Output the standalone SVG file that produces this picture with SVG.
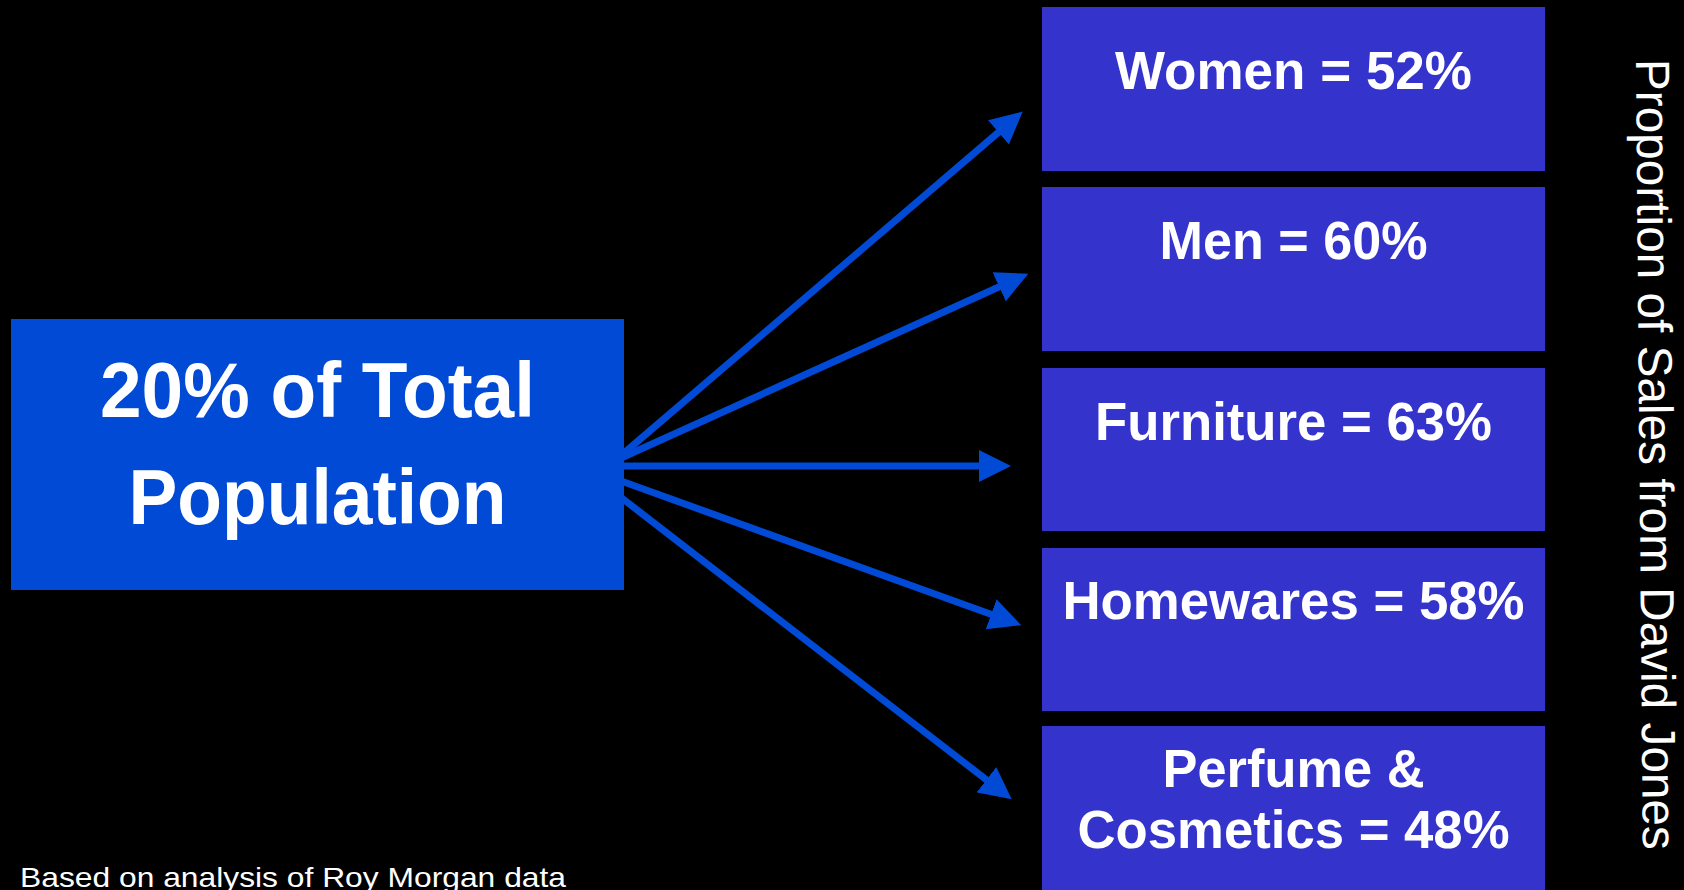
<svg xmlns="http://www.w3.org/2000/svg" width="1684" height="890" viewBox="0 0 1684 890">
  <style>
    .bg { fill: #000000; }
    .src { fill: #004AD6; }
    .seg { fill: #3434CC; }
    .big { font-family: "Liberation Sans", Arial, sans-serif; font-weight: bold; fill: #FFFFFF; text-anchor: middle; }
    .lbl { font-family: "Liberation Sans", Arial, sans-serif; font-weight: bold; font-size: 54px; fill: #FFFFFF; text-anchor: middle; }
    .note { font-family: "Liberation Sans", Arial, sans-serif; fill: #FFFFFF; }
    .arrow { stroke: #004AD6; stroke-width: 7; fill: none; marker-end: url(#head); }
  </style>
  <defs>
    <marker id="head" viewBox="0 0 32 32" markerUnits="userSpaceOnUse" markerWidth="32" markerHeight="32" refX="2" refY="16" orient="auto">
      <path d="M0,0 L32,16 L0,32 Z" fill="#004AD6"/>
    </marker>
  </defs>

  <rect class="bg" x="0" y="0" width="1684" height="890"/>

  <!-- connectors from the population box to each category -->
  <g id="connectors">
    <line class="arrow" x1="610" y1="465" x2="1000" y2="131"/>
    <line class="arrow" x1="610" y1="463" x2="1001" y2="286"/>
    <line class="arrow" x1="610" y1="466" x2="981" y2="466"/>
    <line class="arrow" x1="610" y1="477" x2="993" y2="615"/>
    <line class="arrow" x1="610" y1="489" x2="988" y2="781"/>
  </g>

  <g id="population">
    <rect class="src" x="11" y="319" width="613" height="271"/>
    <text class="big" x="317.5" y="417" font-size="77" textLength="435" lengthAdjust="spacingAndGlyphs">20% of Total</text>
    <text class="big" x="317.5" y="524" font-size="77" textLength="378" lengthAdjust="spacingAndGlyphs">Population</text>
  </g>

  <g id="women">
    <rect class="seg" x="1042" y="7" width="503" height="164"/>
    <text class="lbl" x="1293.5" y="89" textLength="357" lengthAdjust="spacingAndGlyphs">Women = 52%</text>
  </g>

  <g id="men">
    <rect class="seg" x="1042" y="187" width="503" height="164"/>
    <text class="lbl" x="1293.5" y="259" textLength="268" lengthAdjust="spacingAndGlyphs">Men = 60%</text>
  </g>

  <g id="furniture">
    <rect class="seg" x="1042" y="368" width="503" height="163"/>
    <text class="lbl" x="1293.5" y="440" textLength="397" lengthAdjust="spacingAndGlyphs">Furniture = 63%</text>
  </g>

  <g id="homewares">
    <rect class="seg" x="1042" y="548" width="503" height="163"/>
    <text class="lbl" x="1293.5" y="619" textLength="462" lengthAdjust="spacingAndGlyphs">Homewares = 58%</text>
  </g>

  <g id="perfume">
    <rect class="seg" x="1042" y="726" width="503" height="170"/>
    <text class="lbl" x="1293.5" y="787" textLength="262" lengthAdjust="spacingAndGlyphs">Perfume &amp;</text>
    <text class="lbl" x="1293.5" y="848" textLength="432" lengthAdjust="spacingAndGlyphs">Cosmetics = 48%</text>
  </g>

  <g id="axis-title">
    <text class="note" transform="translate(1636,59) rotate(89.5)" font-size="48" textLength="791" lengthAdjust="spacingAndGlyphs">Proportion of Sales from David Jones</text>
  </g>

  <g id="footnote">
    <text class="note" x="20" y="887" font-size="28" textLength="546" lengthAdjust="spacingAndGlyphs">Based on analysis of Roy Morgan data</text>
  </g>
</svg>
